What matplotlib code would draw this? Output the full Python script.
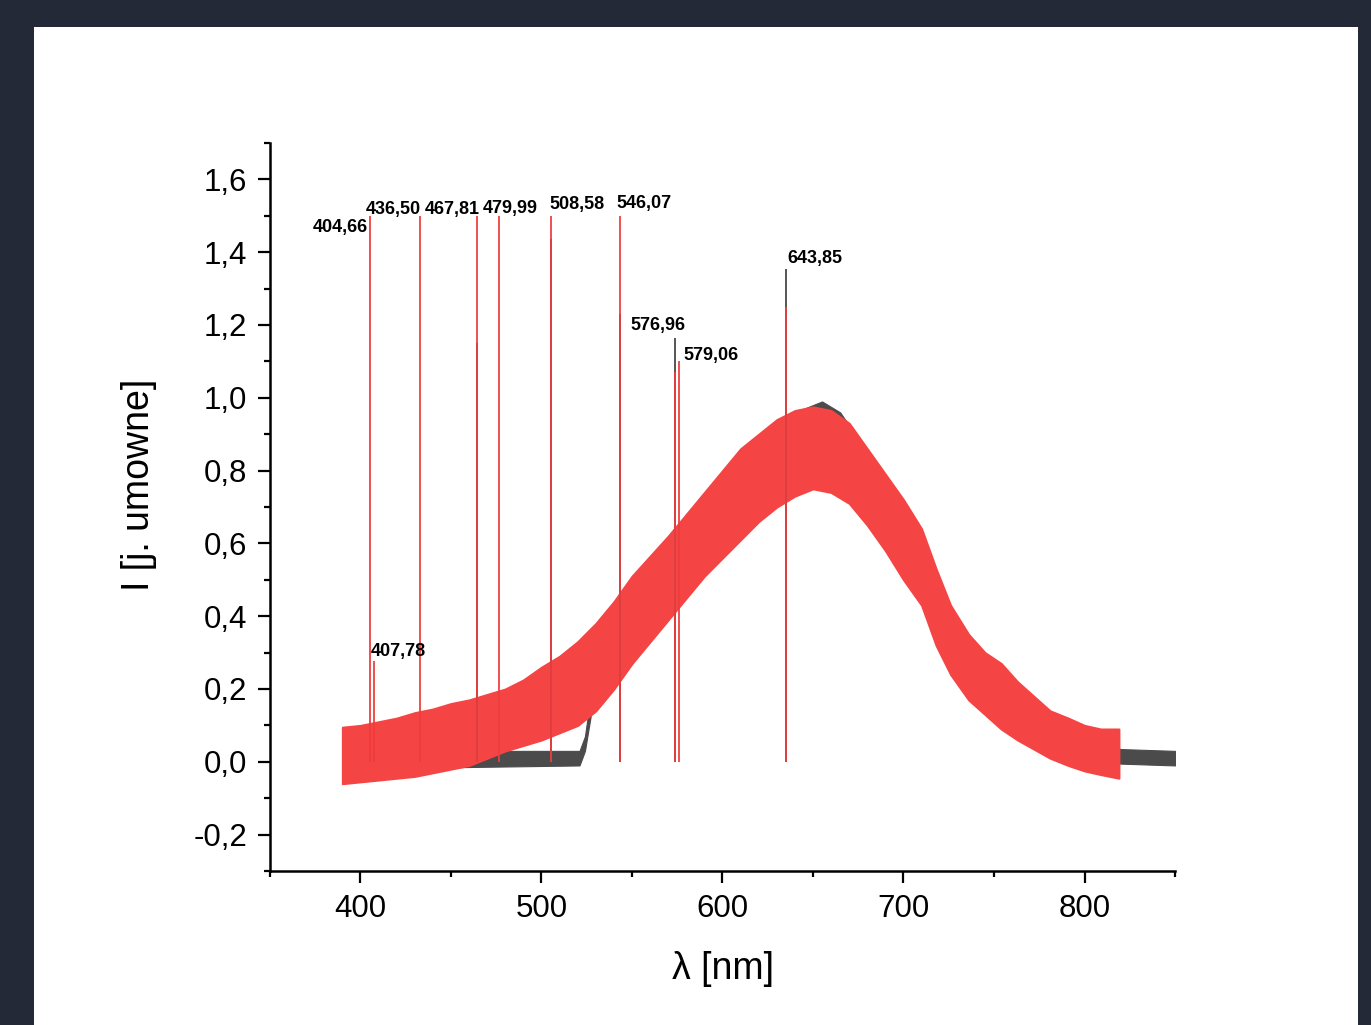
import matplotlib.pyplot as plt
from matplotlib.patches import Rectangle
from matplotlib.ticker import MultipleLocator, FuncFormatter

plt.rcParams['font.family'] = ['Liberation Sans', 'DejaVu Sans']

# Red spectrum: band of the noisy trace (lower / upper edge)
red_wl = [390, 400, 410, 420, 430, 440, 450, 460, 470, 480, 490, 500, 510, 520,
          530, 540, 550, 560, 570, 580, 590, 600, 610, 620, 630, 640, 650, 660,
          670, 680, 690, 700, 710, 718, 726, 736, 745, 754, 763, 772, 781, 791,
          800, 809, 819]
red_lo = [-0.06, -0.055, -0.05, -0.045, -0.04, -0.03, -0.02, -0.01, 0.01, 0.03,
          0.045, 0.06, 0.08, 0.10, 0.14, 0.20, 0.27, 0.33, 0.39, 0.45, 0.51,
          0.56, 0.61, 0.66, 0.70, 0.73, 0.75, 0.74, 0.71, 0.65, 0.58, 0.50, 0.43,
          0.32, 0.24, 0.17, 0.13, 0.09, 0.06, 0.035, 0.01, -0.01, -0.025, -0.035,
          -0.045]
red_hi = [0.095, 0.1, 0.11, 0.12, 0.135, 0.145, 0.16, 0.17, 0.185, 0.2, 0.225,
          0.26, 0.29, 0.33, 0.38, 0.44, 0.51, 0.565, 0.62, 0.68, 0.74, 0.80,
          0.86, 0.90, 0.94, 0.965, 0.975, 0.965, 0.93, 0.86, 0.79, 0.72, 0.64,
          0.53, 0.43, 0.35, 0.30, 0.27, 0.22, 0.18, 0.14, 0.12, 0.10, 0.09, 0.09]

# Gray spectrum band
gray_wl = [390, 450, 521, 524, 528, 535, 550, 570, 590, 610, 630, 645, 655, 665,
           680, 700, 710, 720, 735, 755, 775, 795, 820, 850]
gray_lo = [-0.02, -0.015, -0.01, 0.03, 0.15, 0.2, 0.28, 0.40, 0.52, 0.63, 0.75,
           0.82, 0.84, 0.82, 0.72, 0.56, 0.48, 0.34, 0.24, 0.14, 0.06, 0.01,
           -0.005, -0.01]
gray_hi = [0.03, 0.03, 0.03, 0.07, 0.21, 0.26, 0.36, 0.49, 0.61, 0.73, 0.86, 0.97,
           0.99, 0.96, 0.85, 0.70, 0.62, 0.47, 0.34, 0.24, 0.14, 0.08, 0.035, 0.03]

# Emission lines (position on the plot, peak height) and their labels
red_lines_wl = [405.0, 407.4, 432.7, 464.1, 476.5, 505.3, 543.5, 573.6, 575.8, 635.3]
red_lines_top = [1.50, 0.278, 1.50, 1.50, 1.50, 1.50, 1.50, 1.07, 1.10, 1.25]
gray_lines_wl = [464.1, 505.3, 543.5, 573.6, 635.3]
gray_lines_top = [1.15, 1.435, 1.23, 1.163, 1.355]
line_labels = ['404,66', '407,78', '436,50', '467,81', '479,99', '508,58',
               '546,07', '576,96', '579,06', '643,85']
label_xy = [(373.4, 1.468), (405.5, 0.303), (402.8, 1.517), (435.5, 1.517),
            (467.6, 1.52), (504.2, 1.531), (541.3, 1.534), (549.0, 1.198),
            (578.4, 1.115), (636.0, 1.382)]

RED = '#f54444'
GRAY = '#4b4b4b'

fig = plt.figure(figsize=(13.71, 10.25), dpi=100, facecolor='#232936')
# white page on the dark frame
fig.patches.append(Rectangle((34 / 1371, 0), 1324 / 1371, 998 / 1025,
                             transform=fig.transFigure, facecolor='white',
                             edgecolor='none', zorder=-10))
ax = fig.add_axes([270 / 1371, 154 / 1025, 905 / 1371, 728 / 1025])
ax.set_zorder(5)
ax.set_facecolor('none')

# gray spectrum underneath
ax.fill_between(gray_wl, gray_lo, gray_hi, color=GRAY, lw=0.8)
ax.vlines(gray_lines_wl, 0, gray_lines_top, color='#555555', lw=1.4)

# red spectrum on top
ax.fill_between(red_wl, red_lo, red_hi, facecolor=RED, edgecolor=RED, lw=1.5)
ax.vlines(red_lines_wl, 0, red_lines_top, color='#f03c3c', lw=1.4, alpha=0.9)

for txt, (x, y) in zip(line_labels, label_xy):
    ax.text(x, y, txt, fontsize=13, fontweight='bold', ha='left', va='center')

ax.set_xlim(350, 850)
ax.set_ylim(-0.3, 1.7)
ax.xaxis.set_major_locator(MultipleLocator(100))
ax.xaxis.set_minor_locator(MultipleLocator(50))
ax.yaxis.set_major_locator(MultipleLocator(0.2))
ax.yaxis.set_minor_locator(MultipleLocator(0.1))
ax.yaxis.set_major_formatter(FuncFormatter(lambda v, p: f'{v:.1f}'.replace('.', ',')))

for s in ['top', 'right']:
    ax.spines[s].set_visible(False)
for s in ['left', 'bottom']:
    ax.spines[s].set_linewidth(1.8)
ax.tick_params(which='major', direction='out', length=8.5, width=1.6,
               labelsize=22.5, pad=8)
ax.tick_params(which='minor', direction='out', length=4.5, width=1.6)

ax.set_xlabel('λ [nm]', fontsize=27)
ax.set_ylabel('I [j. umowne]', fontsize=27)
ax.xaxis.set_label_coords(0.5, -0.11)
ax.yaxis.set_label_coords(-0.125, 0.53)

fig.savefig('out.png', dpi=100, facecolor=fig.get_facecolor())
